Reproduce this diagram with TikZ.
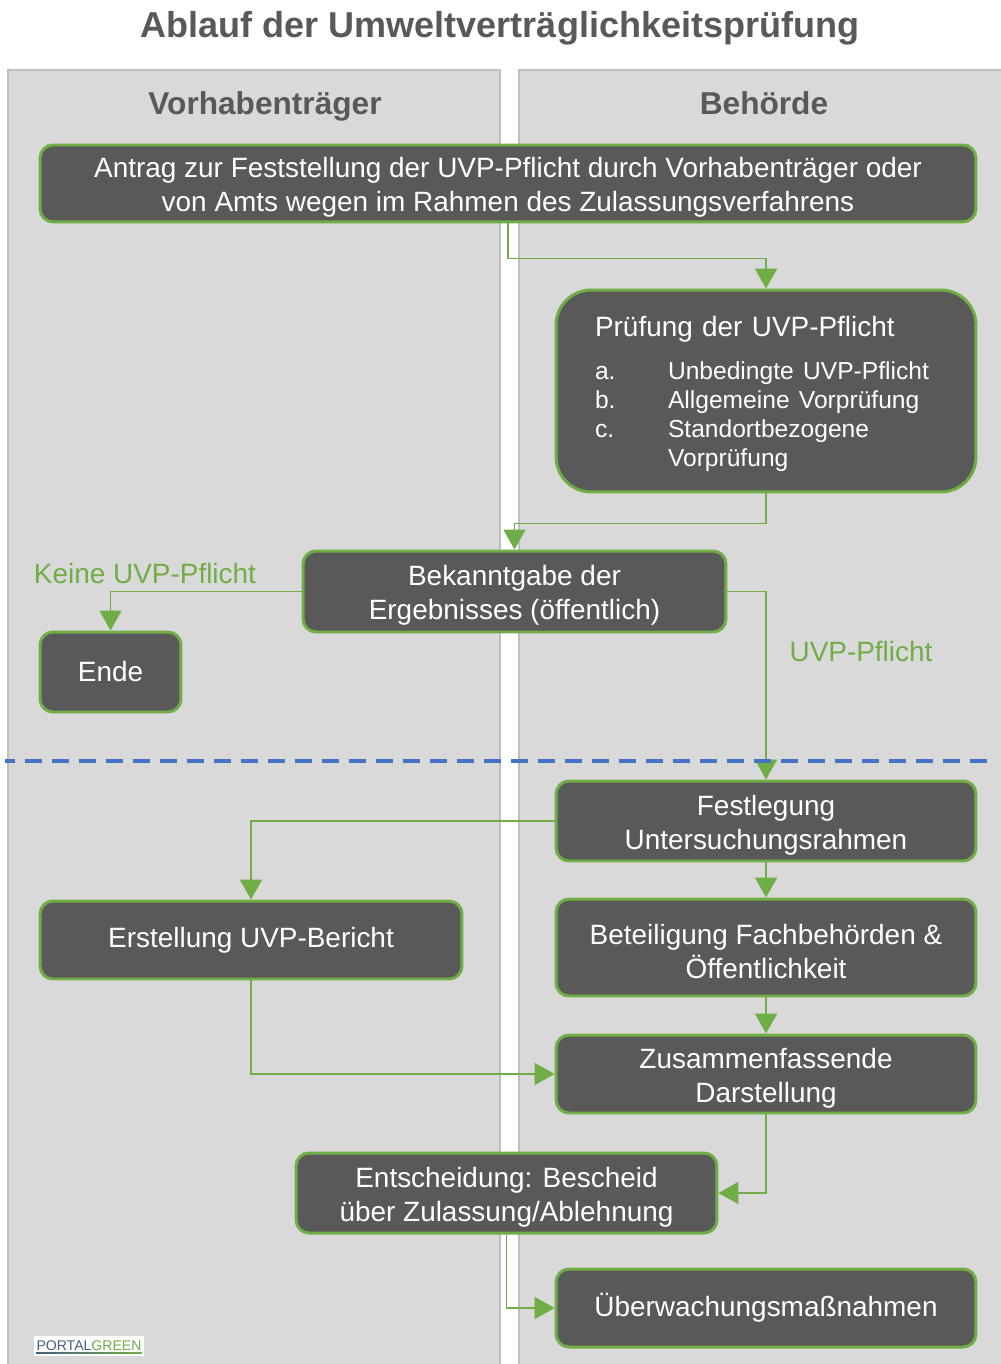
\documentclass[tikz,border=0pt]{standalone}
\usepackage{fontspec}
\setmainfont{Liberation Sans}
\usetikzlibrary{arrows.meta}
\definecolor{lanefill}{HTML}{D9D9D9}
\definecolor{laneline}{HTML}{BFBFBF}
\definecolor{boxfill}{HTML}{595959}
\definecolor{uvpgreen}{HTML}{70AD47}
\definecolor{sepblue}{HTML}{4472C4}
\definecolor{logoblue}{HTML}{44607F}
\begin{document}
\begin{tikzpicture}[x=0.02cm,y=-0.02cm,
  lane/.style={fill=lanefill,draw=laneline,line width=0.8pt},
  box/.style={fill=boxfill,draw=uvpgreen,line width=1.7pt,rounded corners=0.26cm,text=white,align=center,inner sep=2pt,font=\fontsize{15.9}{19.3}\selectfont},
  zwei/.style={text height=35.2pt},
  conn/.style={draw=uvpgreen,line width=1.1pt,-{Triangle[width=0.44cm,length=0.4cm]}},
  lbl/.style={text=uvpgreen,font=\fontsize{15.9}{19.3}\selectfont},
  head/.style={text=boxfill,font=\bfseries\fontsize{18}{22}\selectfont}]
\useasboundingbox (0,0) rectangle (1000,1364);
\fill[white] (0,0) rectangle (1000,1364);
\draw[lane] (8,70) rectangle (500,1372);
\draw[lane] (519,70) rectangle (1008,1372);

\node[text=boxfill,font=\bfseries\fontsize{20.5}{24}\selectfont,anchor=base] (titel) at (500,38) {Ablauf der Umweltverträglichkeitsprüfung};
\node[head,anchor=base] (vorh) at (265,115) {Vorhabenträger};
\node[head,anchor=base] (behoerde) at (764,115) {Behörde};

\node[box,zwei,minimum width=18.72cm,minimum height=1.54cm] (antrag) at (508,183.5) {Antrag zur Feststellung der UVP-Pflicht durch Vorhabenträger oder\\von Amts wegen im Rahmen des Zulassungsverfahrens};
\node[box,minimum width=8.4cm,minimum height=4.04cm,rounded corners=0.7cm,text width=6.84cm,align=left,text height=16.7pt] (pruefung) at (766,391) {Prüfung der UVP-Pflicht\\[5.2pt]
\fontsize{14}{16.4}\selectfont\begin{tabular}[t]{@{}p{1.46cm}@{}l@{}}a.&Unbedingte UVP-Pflicht\\b.&Allgemeine Vorprüfung\\c.&Standortbezogene\\&Vorprüfung\end{tabular}};
\node[box,zwei,minimum width=8.46cm,minimum height=1.62cm] (bekannt) at (514.5,591.5) {Bekanntgabe der\\Ergebnisses (öffentlich)};
\node[box,minimum width=2.82cm,minimum height=1.6cm] (ende) at (110.5,672) {Ende};
\node[box,zwei,minimum width=8.4cm,minimum height=1.6cm] (festl) at (766,821) {Festlegung\\Untersuchungsrahmen};
\node[box,minimum width=8.44cm,minimum height=1.56cm] (erst) at (251,940) {Erstellung UVP-Bericht};
\node[box,zwei,minimum width=8.4cm,minimum height=1.94cm] (beteil) at (766,947.5) {Beteiligung Fachbehörden \&\\Öffentlichkeit};
\node[box,zwei,minimum width=8.4cm,minimum height=1.56cm] (zusamm) at (766,1074) {Zusammenfassende\\Darstellung};
\node[box,zwei,minimum width=8.42cm,minimum height=1.6cm] (entsch) at (506.5,1193) {Entscheidung: Bescheid\\über Zulassung/Ablehnung};
\node[box,minimum width=8.4cm,minimum height=1.56cm] (ueberw) at (766,1308) {Überwachungsmaßnahmen};

\node[lbl] (keine) at (145,574) {Keine UVP-Pflicht};
\node[lbl] (pflicht) at (861,652) {UVP-Pflicht};

\draw[conn] (antrag.south) -- ++(0,35) -| (pruefung.north);
\draw[conn] (pruefung.south) -- ++(0,30) -| (bekannt.north);
\draw[conn] (bekannt.west) -| (ende.north);
\draw[conn] (bekannt.east) -| (festl.north);
\draw[conn] (festl.west) -| (erst.north);
\draw[conn] (festl.south) -- (beteil.north);
\draw[conn] (beteil.south) -- (zusamm.north);
\draw[conn] (erst.south) |- (zusamm.west);
\draw[conn] (zusamm.south) |- (entsch.east);
\draw[conn] (entsch.south) |- (ueberw.west);

\draw[sepblue,line width=2.4pt,dash pattern=on 0.34cm off 0.2cm,dash phase=0.14cm] (5,761) -- (995,761);

\node[fill=white,inner sep=0pt,minimum width=2.2cm,minimum height=0.4cm,font=\fontsize{8}{9}\selectfont] (logo) at (89,1346) {\textcolor{logoblue}{PORTAL}\textcolor{uvpgreen}{GREEN}};
\shade[left color=logoblue,right color=uvpgreen] (36,1352.5) rectangle (142,1353.7);
\end{tikzpicture}
\end{document}
